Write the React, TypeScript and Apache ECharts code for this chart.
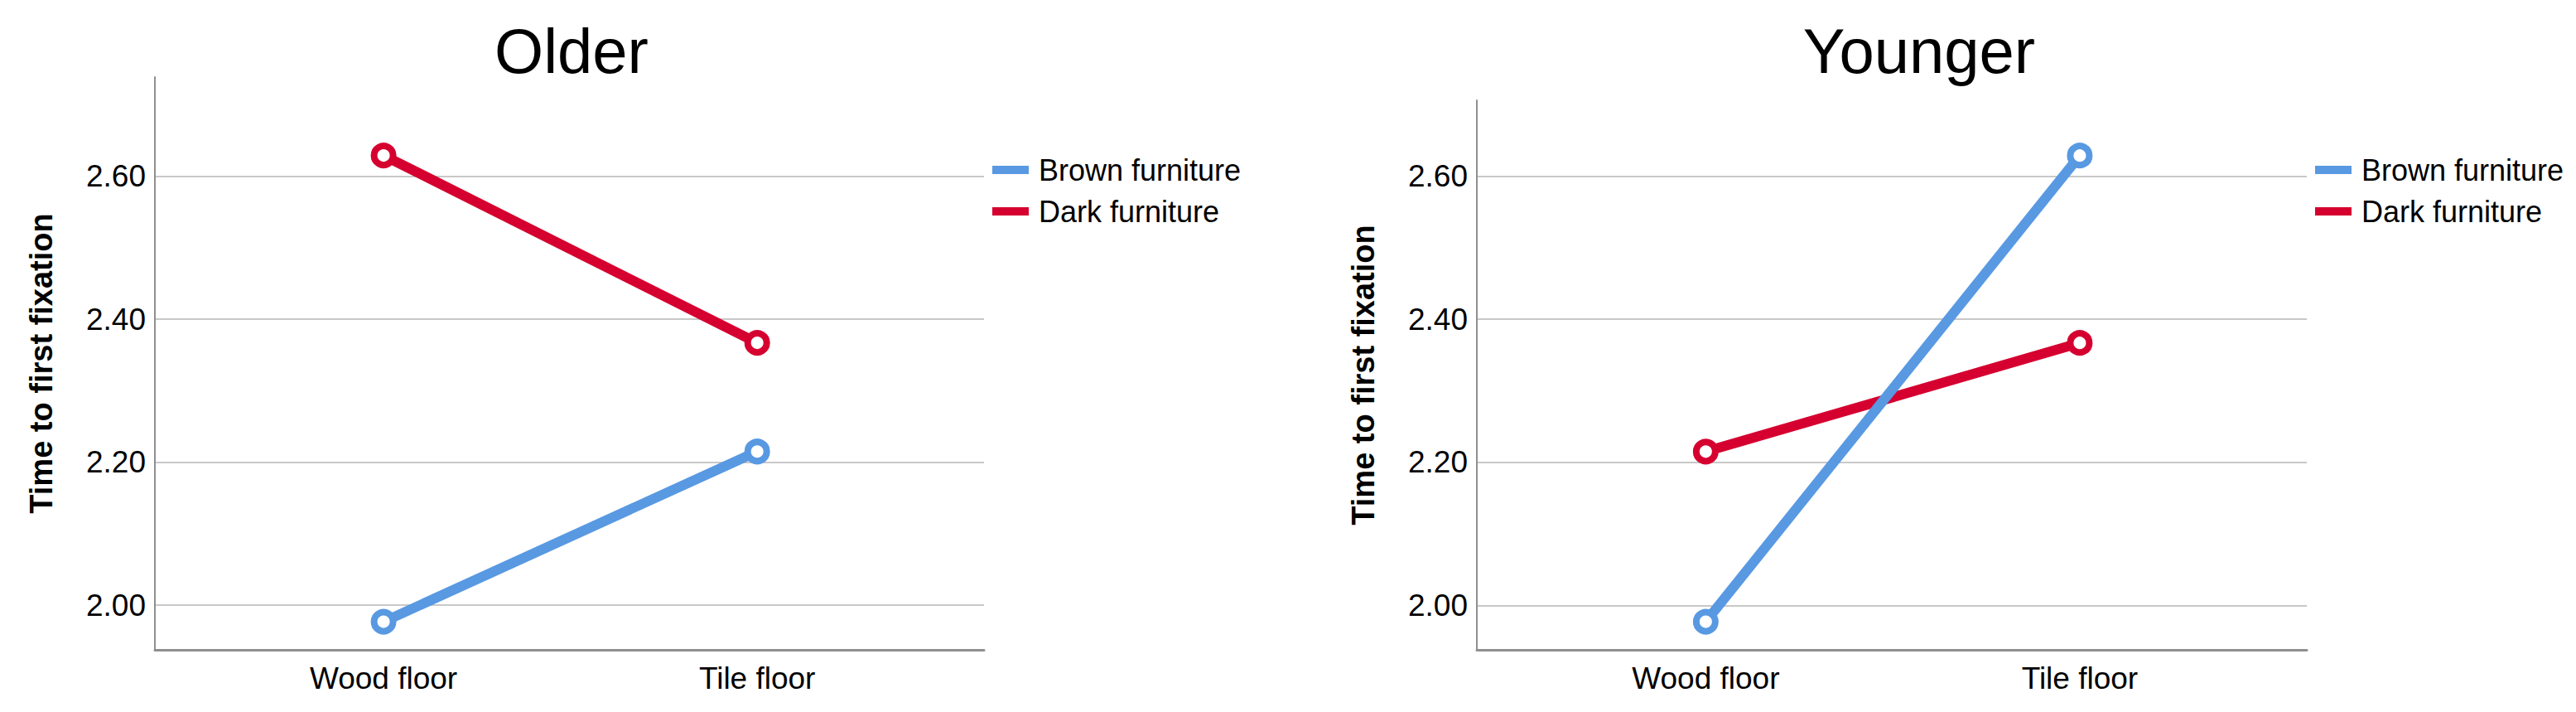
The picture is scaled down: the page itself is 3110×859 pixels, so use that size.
import React, { useEffect, useRef } from "react";
import * as echarts from "echarts";

const floors = ["Wood floor", "Tile floor"];
const panels = ["Older", "Younger"];
const seriesNames = ["Brown furniture", "Dark furniture"];
const olderBrown = [1.977, 2.215];
const olderDark = [2.629, 2.367];
const youngerBrown = [1.977, 2.629];
const youngerDark = [2.215, 2.367];
const yTicks = [2.0, 2.2, 2.4, 2.6];
const yMin = 1.9377;
const yMaxes = [2.7386, 2.7063];
const yTitle = "Time to first fixation";

const BLUE = "#5899E2";
const RED = "#D5002F";
const FONT = "'Liberation Sans', Arial, Helvetica, sans-serif";

export default function App() {
  const ref = useRef<HTMLDivElement>(null);
  useEffect(() => {
    if (!ref.current) return;
    const chart = echarts.init(ref.current, undefined, { renderer: "svg" });
    const grids = [
      { left: 187, top: 93, width: 1001, height: 691 },
      { left: 1783, top: 121, width: 1002, height: 663 },
    ];
    const values = [
      [olderBrown, olderDark],
      [youngerBrown, youngerDark],
    ];
    const colors = [BLUE, RED];
    const series: any[] = [];
    values.forEach((pair, g) => {
      pair.forEach((vals, s) => {
        series.push({
          type: "line",
          name: seriesNames[s],
          xAxisIndex: g,
          yAxisIndex: g,
          data: floors.map((_, i) => [i, vals[i]]),
          symbol: "circle",
          symbolSize: 23,
          lineStyle: { width: 12, color: colors[s] },
          itemStyle: { color: "#ffffff", borderColor: colors[s], borderWidth: 8 },
          z: s === 0 ? 4 : 3,
          silent: true,
        });
      });
    });
    const titleCenters = [685, 2312];
    const legendLefts = [1193, 2790];
    const option: any = {
      animation: false,
      backgroundColor: "#ffffff",
      textStyle: { fontFamily: FONT },
      title: panels.map((p, i) => ({
        text: p,
        left: titleCenters[i],
        top: 18,
        textAlign: "center",
        textStyle: { fontSize: 76, fontWeight: "normal", color: "#000", fontFamily: FONT },
      })),
      legend: legendLefts.map((l) => ({
        orient: "vertical",
        left: l,
        top: 182,
        itemWidth: 44,
        itemHeight: 10,
        itemGap: 14,
        icon: "rect",
        selectedMode: false,
        textStyle: { fontSize: 36, color: "#000", fontFamily: FONT, padding: [0, 0, 0, 7] },
        data: seriesNames.map((n, s) => ({
          name: n,
          itemStyle: { color: colors[s], borderWidth: 0, borderColor: colors[s] },
        })),
      })),
      grid: grids,
      xAxis: grids.map((_, i) => ({
        type: "value",
        gridIndex: i,
        min: -0.612,
        max: 1.607,
        axisLine: { show: true, onZero: false, lineStyle: { color: "#8f8f8f", width: 3 } },
        axisTick: { show: false, customValues: [0, 1] },
        splitLine: { show: false },
        axisLabel: {
          customValues: [0, 1],
          formatter: (v: number) => floors[Math.round(v)] ?? "",
          fontSize: 37,
          color: "#000",
          margin: 16,
          fontFamily: FONT,
        },
      })),
      yAxis: grids.map((_, i) => ({
        type: "value",
        gridIndex: i,
        min: yMin,
        max: yMaxes[i],
        axisLine: { show: true, onZero: false, lineStyle: { color: "#8f8f8f", width: 2 } },
        axisTick: { show: false, customValues: yTicks },
        splitLine: { show: true, lineStyle: { color: "#c8c8c8", width: 2 } },
        axisLabel: {
          customValues: yTicks,
          formatter: (v: number) => v.toFixed(2),
          fontSize: 37,
          color: "#000",
          margin: 11,
          fontFamily: FONT,
        },
        name: yTitle,
        nameLocation: "middle",
        nameRotate: 90,
        nameGap: 118,
        nameTextStyle: { fontSize: 38, fontWeight: "bold", color: "#000", fontFamily: FONT },
      })),
      series,
    };
    chart.setOption(option);
    return () => chart.dispose();
  }, []);
  return (
    <div
      ref={ref}
      style={{ position: "fixed", left: 0, top: 0, width: 3110, height: 859, background: "#fff" }}
    />
  );
}
